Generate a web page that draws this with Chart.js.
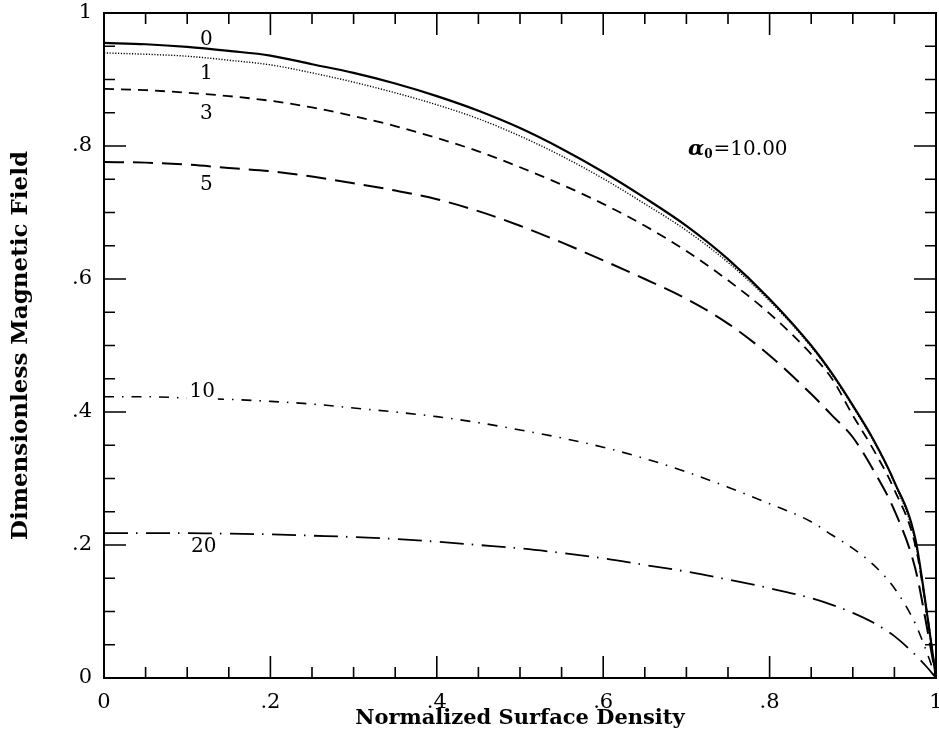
<!DOCTYPE html>
<html>
<head>
<meta charset="utf-8">
<script src="https://cdn.jsdelivr.net/npm/chart.js@4.4.1/dist/chart.umd.min.js"></script>
<style>
  html, body { margin: 0; padding: 0; background: #fff; }
  #wrap { width: 939px; height: 738px; position: relative; }
</style>
</head>
<body>
<div id="wrap"><canvas id="chart"></canvas></div>
<script>
"use strict";

// normalized surface density (x) shared by every curve
var density = [0, 0.05, 0.1, 0.15, 0.2, 0.25, 0.3, 0.35, 0.4, 0.45, 0.5, 0.55,
               0.6, 0.65, 0.7, 0.75, 0.8, 0.85, 0.875, 0.9, 0.925, 0.95, 0.975, 0.99, 1];

// dimensionless magnetic field, one list per curve label
var field0  = [0.955, 0.953, 0.949, 0.943, 0.936, 0.923, 0.910, 0.894, 0.875, 0.853, 0.827, 0.796,
               0.761, 0.722, 0.680, 0.630, 0.570, 0.500, 0.458, 0.410, 0.358, 0.295, 0.210, 0.090, 0];
var field1  = [0.940, 0.938, 0.935, 0.929, 0.922, 0.910, 0.896, 0.880, 0.862, 0.841, 0.815, 0.785,
               0.751, 0.713, 0.673, 0.625, 0.567, 0.498, 0.456, 0.408, 0.356, 0.293, 0.205, 0.090, 0];
var field3  = [0.886, 0.884, 0.880, 0.875, 0.868, 0.858, 0.845, 0.830, 0.812, 0.792, 0.768, 0.742,
               0.713, 0.680, 0.642, 0.598, 0.548, 0.487, 0.450, 0.395, 0.343, 0.283, 0.200, 0.090, 0];
var field5  = [0.776, 0.775, 0.772, 0.767, 0.762, 0.754, 0.744, 0.733, 0.720, 0.702, 0.680, 0.655,
               0.628, 0.600, 0.570, 0.533, 0.485, 0.427, 0.395, 0.362, 0.312, 0.252, 0.165, 0.070, 0];
var field10 = [0.423, 0.423, 0.421, 0.419, 0.416, 0.412, 0.406, 0.400, 0.393, 0.384, 0.373, 0.361,
               0.347, 0.330, 0.310, 0.287, 0.262, 0.235, 0.215, 0.195, 0.170, 0.135, 0.082, 0.035, 0];
var field20 = [0.218, 0.218, 0.218, 0.217, 0.216, 0.214, 0.212, 0.209, 0.205, 0.200, 0.195, 0.188,
               0.180, 0.170, 0.160, 0.148, 0.135, 0.120, 0.110, 0.098, 0.083, 0.063, 0.035, 0.015, 0];

var curveNames = ["0", "1", "3", "5", "10", "20"];

// where the curve names sit, in data units
var nameX = [0.123, 0.123, 0.123, 0.123, 0.118, 0.120];
var nameY = [0.959, 0.908, 0.848, 0.742, 0.430, 0.197];

var FONT = "'DejaVu Serif', 'Liberation Serif', serif";

function pairs(ys) {
  return density.map(function (x, i) { return { x: x, y: ys[i] }; });
}

function line(ys, width, dash) {
  return {
    data: pairs(ys),
    borderColor: "#000",
    borderWidth: width,
    borderDash: dash,
    pointRadius: 0,
    fill: false,
    cubicInterpolationMode: "monotone"
  };
}

function tickText(v) {
  var r = Math.round(v * 10);
  if (r === 0) return "0";
  if (r === 10) return "1";
  return "." + r;
}

// closed frame with inward ticks on all four sides
var frameTicks = {
  id: "frameTicks",
  afterDatasetsDraw: function (chart) {
    var ctx = chart.ctx, a = chart.chartArea;
    var xs = chart.scales.x, ys = chart.scales.y;
    ctx.save();
    ctx.strokeStyle = "#000";
    ctx.lineWidth = 2;
    ctx.strokeRect(a.left, a.top, a.right - a.left, a.bottom - a.top);
    ctx.lineWidth = 1.6;
    ctx.beginPath();
    for (var k = 0; k <= 20; k++) {
      var v = k / 20;
      var len = (k % 4 === 0) ? 22 : 11;
      var px = xs.getPixelForValue(v);
      var py = ys.getPixelForValue(v);
      ctx.moveTo(px, a.bottom); ctx.lineTo(px, a.bottom - len);
      ctx.moveTo(px, a.top);    ctx.lineTo(px, a.top + len);
      ctx.moveTo(a.left, py);   ctx.lineTo(a.left + len, py);
      ctx.moveTo(a.right, py);  ctx.lineTo(a.right - len, py);
    }
    ctx.stroke();
    ctx.restore();
  }
};

var curveLabels = {
  id: "curveLabels",
  afterDatasetsDraw: function (chart) {
    var ctx = chart.ctx;
    var xs = chart.scales.x, ys = chart.scales.y;
    ctx.save();
    ctx.fillStyle = "#000";
    ctx.font = "20px " + FONT;
    ctx.textAlign = "center";
    ctx.textBaseline = "middle";
    curveNames.forEach(function (name, i) {
      var px = xs.getPixelForValue(nameX[i]);
      var py = ys.getPixelForValue(nameY[i]);
      if (name === "10") {
        var w = ctx.measureText(name).width;
        ctx.fillStyle = "#fff";
        ctx.fillRect(px - w / 2 - 3, py - 9, w + 6, 18);
        ctx.fillStyle = "#000";
      }
      ctx.fillText(name, px, py);
    });

    // alpha_0 = 10.00
    var x = xs.getPixelForValue(0.702);
    var y = ys.getPixelForValue(0.797);
    ctx.textAlign = "left";
    ctx.textBaseline = "alphabetic";
    ctx.font = "italic bold 21px " + FONT;
    ctx.fillText("α", x, y + 7);
    x += ctx.measureText("α").width;
    ctx.font = "bold 12px " + FONT;
    ctx.fillText("0", x, y + 10);
    x += ctx.measureText("0").width + 1;
    ctx.font = "20px " + FONT;
    ctx.fillText("=10.00", x, y + 7);
    ctx.restore();
  }
};

new Chart(document.getElementById("chart"), {
  type: "line",
  data: {
    datasets: [
      line(field0, 2.2, []),
      line(field1, 1.4, [1.2, 1.6]),
      line(field3, 1.8, [10, 7]),
      line(field5, 2, [20, 9]),
      line(field10, 1.6, [10, 8, 1.5, 8]),
      line(field20, 1.8, [24, 8, 1.5, 8.5])
    ]
  },
  options: {
    responsive: true,
    maintainAspectRatio: false,
    animation: false,
    layout: { padding: { top: 13, right: 3, left: 0, bottom: 0 } },
    plugins: { legend: { display: false }, tooltip: { enabled: false } },
    scales: {
      x: {
        type: "linear", min: 0, max: 1,
        grid: { display: false, drawTicks: false },
        border: { display: false },
        ticks: { stepSize: 0.2, padding: 12, color: "#000", maxRotation: 0, autoSkip: false,
                 font: { family: FONT, size: 21 }, callback: tickText },
        title: { display: true, text: "Normalized Surface Density", color: "#000",
                 font: { family: FONT, size: 21, weight: "bold" }, padding: { top: 0, bottom: 7 } },
        afterFit: function (s) { s.height = 60; s.paddingLeft = 0; s.paddingRight = 0; }
      },
      y: {
        type: "linear", min: 0, max: 1,
        grid: { display: false, drawTicks: false },
        border: { display: false },
        ticks: { stepSize: 0.2, padding: 12, color: "#000", autoSkip: false,
                 font: { family: FONT, size: 21 }, callback: tickText },
        title: { display: true, text: "Dimensionless Magnetic Field", color: "#000",
                 font: { family: FONT, size: 23, weight: "bold" }, padding: { top: 7, bottom: 0 } },
        afterFit: function (s) { s.width = 104; s.paddingTop = 0; s.paddingBottom = 0; }
      }
    }
  },
  plugins: [frameTicks, curveLabels]
});
</script>
</body>
</html>
